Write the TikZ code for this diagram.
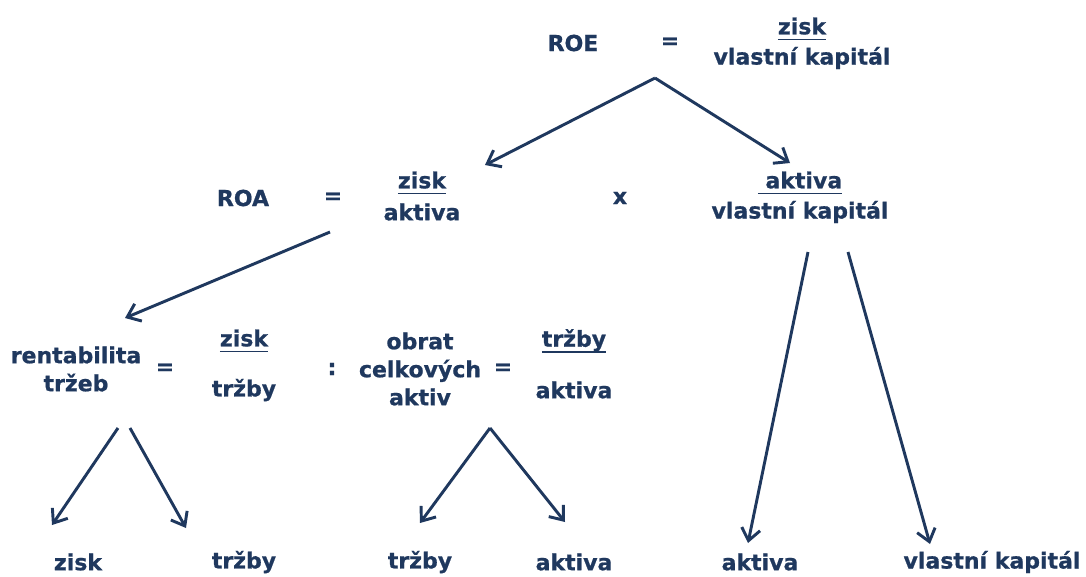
\documentclass[tikz,border=0pt]{standalone}
\usepackage{fontspec}
\setmainfont{DejaVu Sans}[BoldFeatures={FakeBold=0.8}]
\usetikzlibrary{arrows.meta}
\definecolor{navyblue}{RGB}{31,56,94}

\newcommand{\ulbar}[1]{\setbox0=\hbox{#1}\rlap{\rule[-4.6pt]{\wd0}{1.4pt}}\box0}

\tikzset{every picture/.style={line width=0.75pt}}
\tikzset{
  txt/.style={inner sep=0.75pt, text=navyblue, font=\fontsize{16.5}{21}\selectfont\bfseries, align=center},
  arr/.style={draw=navyblue, line width=2.2pt, -{Straight Barb[length=9pt,width=14pt,line width=2.2pt]}}
}

\begin{document}
\begin{tikzpicture}[x=0.75pt,y=0.75pt,yscale=-1,xscale=1]
  \useasboundingbox (0,0) rectangle (1086,576);

  % Text Node
  \node [txt] (roe) at (573,43) {ROE};
  % Text Node
  \node [txt] (roeeq) at (670,43) {=};
  % Text Node
  \node [txt] (roenum) at (802,29) {\ulbar{zisk}};
  % Text Node
  \node [txt] (roeden) at (802,58) {vlastní kapitál};

  % Text Node
  \node [txt] (roa) at (243,198) {ROA};
  % Text Node
  \node [txt] (roaeq) at (333,198) {=};
  % Text Node
  \node [txt] (roanum) at (422,183) {\ulbar{zisk}};
  % Text Node
  \node [txt] (roaden) at (422,212) {aktiva};
  % Text Node
  \node [txt] (times) at (620,198) {x};
  % Text Node
  \node [txt] (pakanum) at (800,183) {\ulbar{\ aktiva}};
  % Text Node
  \node [txt] (pakaden) at (800,212) {vlastní kapitál};

  % Text Node
  \node [txt] (ros) at (76,369) {rentabilita\\tržeb};
  % Text Node
  \node [txt] (roseq) at (165,369) {=};
  % Text Node
  \node [txt] (rosnum) at (244,341) {\ulbar{zisk}};
  % Text Node
  \node [txt] (rosden) at (244,390) {tržby};
  % Text Node
  \node [txt] (colon) at (332,369) {:};
  % Text Node
  \node [txt] (obrat) at (420,369) {obrat\\celkových\\aktiv};
  % Text Node
  \node [txt] (obrateq) at (503,369) {=};
  % Text Node
  \node [txt] (obratnum) at (574,341) {\ulbar{tržby}};
  % Text Node
  \node [txt] (obratden) at (574,390) {aktiva};

  % Text Node
  \node [txt] (leafa) at (78,562) {zisk};
  % Text Node
  \node [txt] (leafb) at (244,562) {tržby};
  % Text Node
  \node [txt] (leafc) at (420,562) {tržby};
  % Text Node
  \node [txt] (leafd) at (574,562) {aktiva};
  % Text Node
  \node [txt] (leafe) at (760,562) {aktiva};
  % Text Node
  \node [txt] (leaff) at (992,562) {vlastní kapitál};

  % Arrow ends
  \coordinate (roetop) at (655,78);
  \coordinate (roatip) at (485,165);
  \coordinate (pakatip) at (790,163);
  \coordinate (roabot) at (330,232);
  \coordinate (rostip) at (125,318);
  \coordinate (rosbotl) at (118,428);
  \coordinate (rosbotr) at (130,428);
  \coordinate (leafatip) at (52,525);
  \coordinate (leafbtip) at (186,528);
  \coordinate (obratbot) at (490,428);
  \coordinate (leafctip) at (420,523);
  \coordinate (leafdtip) at (565,522);
  \coordinate (pakabotl) at (808,252);
  \coordinate (pakabotr) at (848,252);
  \coordinate (leafetip) at (748,543);
  \coordinate (leafftip) at (930,544);

  %Straight Lines
  \draw [arr] (roetop) -- (roatip);
  %Straight Lines
  \draw [arr] (roetop) -- (pakatip);
  %Straight Lines
  \draw [arr] (roabot) -- (rostip);
  %Straight Lines
  \draw [arr] (rosbotl) -- (leafatip);
  %Straight Lines
  \draw [arr] (rosbotr) -- (leafbtip);
  %Straight Lines
  \draw [arr] (obratbot) -- (leafctip);
  %Straight Lines
  \draw [arr] (obratbot) -- (leafdtip);
  %Straight Lines
  \draw [arr] (pakabotl) -- (leafetip);
  %Straight Lines
  \draw [arr] (pakabotr) -- (leafftip);

\end{tikzpicture}
\end{document}
